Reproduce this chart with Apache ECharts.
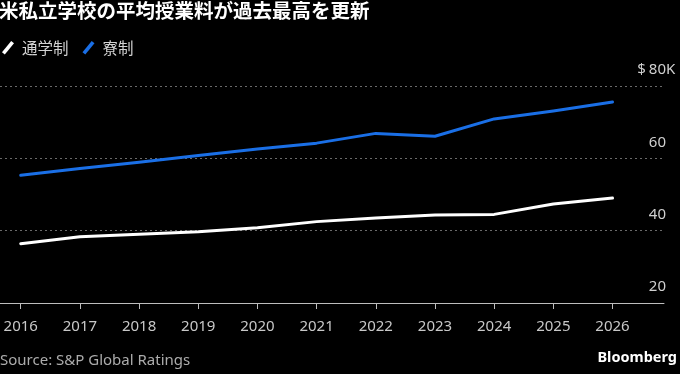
<!DOCTYPE html>
<html>
<head>
<meta charset="utf-8">
<script src="https://cdn.jsdelivr.net/npm/echarts@6/dist/echarts.min.js"></script>
<style>
  html, body { margin: 0; padding: 0; background: #000; }
  #chart { width: 680px; height: 374px; }
</style>
</head>
<body>
<div id="chart"></div>
<script>
const years = [2016, 2017, 2018, 2019, 2020, 2021, 2022, 2023, 2024, 2025, 2026];
const dayValues = [36.4, 38.3, 39.0, 39.7, 40.8, 42.5, 43.5, 44.3, 44.5, 47.4, 49.0];
const boardingValues = [55.3, 57.2, 58.9, 60.8, 62.6, 64.2, 66.9, 66.1, 70.9, 73.1, 75.6];
const seriesNames = ['通学制', '寮制'];
const yTicks = [20, 40, 60, 80];

const FONT = '"Noto Sans", "Noto Sans CJK JP", sans-serif';
const JFONT = '"Noto Sans CJK JP", "Noto Sans", sans-serif';

const chart = echarts.init(document.getElementById('chart'), null, { renderer: 'canvas' });
const slash = 'path://M0,11.2 L9.2,0 L12,2.4 L2.8,13.6 Z';
const LBL = { color: '#d0d0d0', fontSize: 15, fontFamily: FONT, align: 'left' };

chart.setOption({
  backgroundColor: '#000',
  animation: false,
  title: {
    text: '米私立学校の平均授業料が過去最高を更新',
    left: -1, top: 1, padding: 0,
    textStyle: { color: '#fff', fontSize: 19.5, fontWeight: 'bold', fontFamily: JFONT, lineHeight: 20 }
  },
  legend: {
    left: 2, top: 40, padding: 0,
    icon: slash,
    itemWidth: 12, itemHeight: 14, itemGap: 14,
    textStyle: { color: '#d4d4d4', fontSize: 15.5, fontFamily: JFONT, padding: [0, 0, 0, 3] },
    data: seriesNames
  },
  grid: { left: 0, right: 16, top: 86, bottom: 71, containLabel: false },
  xAxis: {
    type: 'value',
    min: 2015.65, max: 2026.87,
    splitLine: { show: false },
    axisLine: { show: true, lineStyle: { color: '#bdbdbd', width: 1 } },
    axisTick: { show: true, customValues: years, length: 6, lineStyle: { color: '#bdbdbd' } },
    axisLabel: {
      customValues: years,
      color: '#c8c8c8', fontSize: 15, fontFamily: FONT, margin: 16,
      formatter: v => String(Math.round(v))
    }
  },
  yAxis: {
    type: 'value',
    position: 'right',
    min: yTicks[0], max: yTicks[yTicks.length - 1], interval: 20,
    axisLine: { show: false },
    axisTick: { show: false },
    splitLine: { show: true, lineStyle: { color: '#6a6a6a', type: [2, 3], width: 1 } },
    axisLabel: {
      inside: true, margin: -2,
      color: '#d0d0d0', fontSize: 15, fontFamily: FONT,
      verticalAlign: 'bottom', lineHeight: 16, padding: [0, 0, 8, 0],
      formatter: v => v === 80 ? '{d|$}{n|80}{k|K}' : String(v),
      rich: {
        d: Object.assign({ padding: [0, 3, 0, 0] }, LBL),
        n: Object.assign({}, LBL),
        k: Object.assign({ width: 0 }, LBL)
      }
    }
  },
  series: [
    {
      name: seriesNames[0], type: 'line',
      data: years.map((y, i) => [y, dayValues[i]]),
      showSymbol: false, symbol: 'none',
      lineStyle: { color: '#ffffff', width: 3, cap: 'round', join: 'round' },
      itemStyle: { color: '#ffffff' }
    },
    {
      name: seriesNames[1], type: 'line',
      data: years.map((y, i) => [y, boardingValues[i]]),
      showSymbol: false, symbol: 'none',
      lineStyle: { color: '#1a6fe6', width: 3, cap: 'round', join: 'round' },
      itemStyle: { color: '#1a6fe6' }
    }
  ],
  graphic: [
    {
      type: 'text', left: 0, top: 353,
      style: { text: 'Source: S&P Global Ratings', fill: '#acacac', fontSize: 15, fontFamily: FONT }
    },
    {
      type: 'text', right: 3, top: 351,
      style: { text: 'Bloomberg', fill: '#ffffff', fontSize: 14.5, fontWeight: 'bold', fontFamily: FONT }
    }
  ]
});
</script>
</body>
</html>
